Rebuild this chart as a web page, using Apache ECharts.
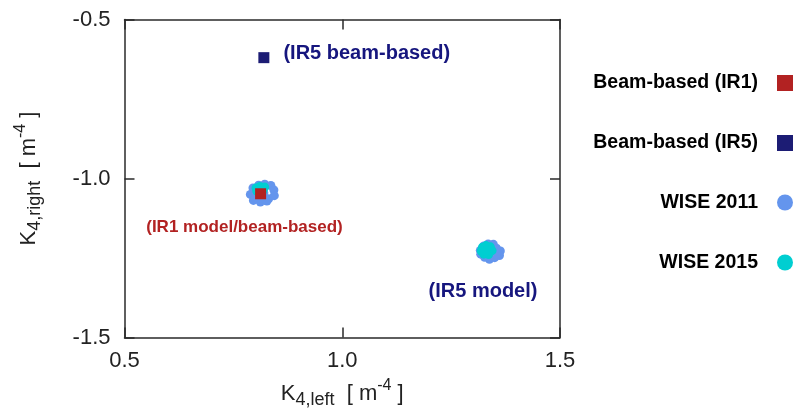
<!DOCTYPE html>
<html><head><meta charset="utf-8">
<script src="https://cdn.jsdelivr.net/npm/echarts@6/dist/echarts.min.js"></script>
<style>html,body{margin:0;padding:0;background:#fff}#c{width:796px;height:413px}</style>
</head><body><div id="c"></div>
<script>
// ---- data ----
const xRange = [0.5, 1.5];
const yRange = [-1.5, -0.5];
const tickStep = 0.5;
const seriesNames = ['Beam-based (IR1)', 'Beam-based (IR5)', 'WISE 2011', 'WISE 2015'];
const beamIR1 = [[0.8125, -1.048]];
const beamIR5 = [[0.820, -0.620]];
const wise2011 = [
  [0.795, -1.030], [0.808, -1.021], [0.822, -1.018], [0.836, -1.022], [0.843, -1.036],
  [0.789, -1.050], [0.799, -1.062], [0.815, -1.067], [0.831, -1.064], [0.844, -1.054],
  [0.805, -1.040], [0.820, -1.045], [0.812, -1.074], [0.827, -1.071], [0.796, -1.069],
  [1.317, -1.226], [1.325, -1.212], [1.335, -1.206], [1.347, -1.207], [1.354, -1.219],
  [1.363, -1.228], [1.361, -1.242], [1.350, -1.249], [1.338, -1.254], [1.327, -1.248],
  [1.318, -1.238], [1.340, -1.230], [1.353, -1.237]
];
const wise2015 = [
  [0.802, -1.030], [0.811, -1.025], [0.822, -1.027], [0.804, -1.040], [0.818, -1.038],
  [1.322, -1.216], [1.330, -1.211], [1.340, -1.215], [1.344, -1.227], [1.336, -1.239],
  [1.325, -1.238], [1.319, -1.228], [1.332, -1.226]
];
const annotationText = ['(IR1 model/beam-based)', '(IR5 beam-based)', '(IR5 model)'];
const annotationAt = [[0.7755, -1.154], [1.0563, -0.6053], [1.3232, -1.3553]];

// ---- styles ----
const colors = ['#b22222', '#1c1c74', '#6495ed', '#00ced1'];
const annotationColors = ['#b22222', '#16167e', '#16167e'];
const annotationSizes = [17, 20, 20];
const FONT = '"Liberation Sans", Arial, Helvetica, sans-serif';

const chart = echarts.init(document.getElementById('c'), null, {renderer: 'canvas'});

const axisLineStyle = {color: '#2a2a2a', width: 1.5};
const nameRich = {
  k: {fontSize: 22, lineHeight: 32, fontFamily: FONT, color: '#222'},
  sub: {fontSize: 18, lineHeight: 15, verticalAlign: 'bottom', fontFamily: FONT, color: '#222'},
  sup: {fontSize: 16, lineHeight: 15, verticalAlign: 'top', fontFamily: FONT, color: '#222'}
};
function mkX(pos, showLabel) {
  return {
    type: 'value', position: pos, min: xRange[0], max: xRange[1], interval: tickStep,
    axisLine: {show: true, onZero: false, lineStyle: axisLineStyle},
    axisTick: {show: true, inside: true, length: 10, lineStyle: axisLineStyle},
    splitLine: {show: false},
    axisLabel: {show: showLabel, margin: 12, color: '#222', fontSize: 22, fontFamily: FONT,
      formatter: v => v.toFixed(1)},
    name: showLabel ? '{k|K}{sub|4,left}{k|  [ m}{sup|-4}{k| ]}' : '',
    nameLocation: 'middle', nameGap: 40,
    nameTextStyle: {fontFamily: FONT, color: '#222', rich: nameRich}
  };
}
function mkY(pos, showLabel) {
  return {
    type: 'value', position: pos, min: yRange[0], max: yRange[1], interval: tickStep,
    axisLine: {show: true, onZero: false, lineStyle: axisLineStyle},
    axisTick: {show: true, inside: true, length: 10, lineStyle: axisLineStyle},
    splitLine: {show: false},
    axisLabel: {show: showLabel, margin: 14, color: '#222', fontSize: 22, fontFamily: FONT,
      formatter: v => v.toFixed(1)},
    name: showLabel ? '{k|K}{sub|4,right}{k|  [ m}{sup|-4}{k| ]}' : '',
    nameLocation: 'middle', nameGap: 80, nameRotate: 90,
    nameTextStyle: {fontFamily: FONT, color: '#222', rich: nameRich}
  };
}

const legendCenters = [81, 141, 200.5, 260.5];
const legendIcons = ['rect', 'rect', 'circle', 'circle'];
const legends = seriesNames.map((n, i) => ({
  data: [{name: n, icon: legendIcons[i]}],
  orient: 'vertical', align: 'right', right: 3, top: legendCenters[i] - 8,
  padding: 0, itemWidth: 16, itemHeight: 16, selectedMode: false,
  textStyle: {fontSize: 19.5, fontWeight: 'bold', color: '#000', fontFamily: FONT,
    lineHeight: 16, padding: [0, 14, 0, 0]}
}));

const option = {
  backgroundColor: '#fff',
  animation: false,
  grid: {left: 124.5, top: 19.5, width: 435.5, height: 318, containLabel: false, outerBoundsMode: 'none'},
  xAxis: [mkX('bottom', true), mkX('top', false)],
  yAxis: [mkY('left', true), mkY('right', false)],
  legend: legends,
  series: [
    {name: seriesNames[2], type: 'scatter', data: wise2011, symbol: 'circle', symbolSize: 9,
      itemStyle: {color: colors[2], opacity: 1}, z: 2},
    {name: seriesNames[3], type: 'scatter', data: wise2015, symbol: 'circle', symbolSize: 9,
      itemStyle: {color: colors[3], opacity: 1}, z: 3},
    {name: seriesNames[0], type: 'scatter', data: beamIR1, symbol: 'rect', symbolSize: 11,
      itemStyle: {color: colors[0], opacity: 1}, z: 4},
    {name: seriesNames[1], type: 'scatter', data: beamIR5, symbol: 'rect', symbolSize: 11,
      itemStyle: {color: colors[1], opacity: 1}, z: 4},
    {name: 'annotations', type: 'scatter', symbolSize: 0, silent: true, z: 5,
      itemStyle: {opacity: 1, color: 'transparent'},
      data: annotationText.map((t, i) => ({
        name: t, value: annotationAt[i],
        label: {show: true, position: 'inside', formatter: '{b}', color: annotationColors[i],
          fontSize: annotationSizes[i], fontWeight: 'bold', fontFamily: FONT,
          textBorderWidth: 0, textBorderColor: 'transparent', opacity: 1}
      }))}
  ]
};
chart.setOption(option);
</script>
</body></html>
